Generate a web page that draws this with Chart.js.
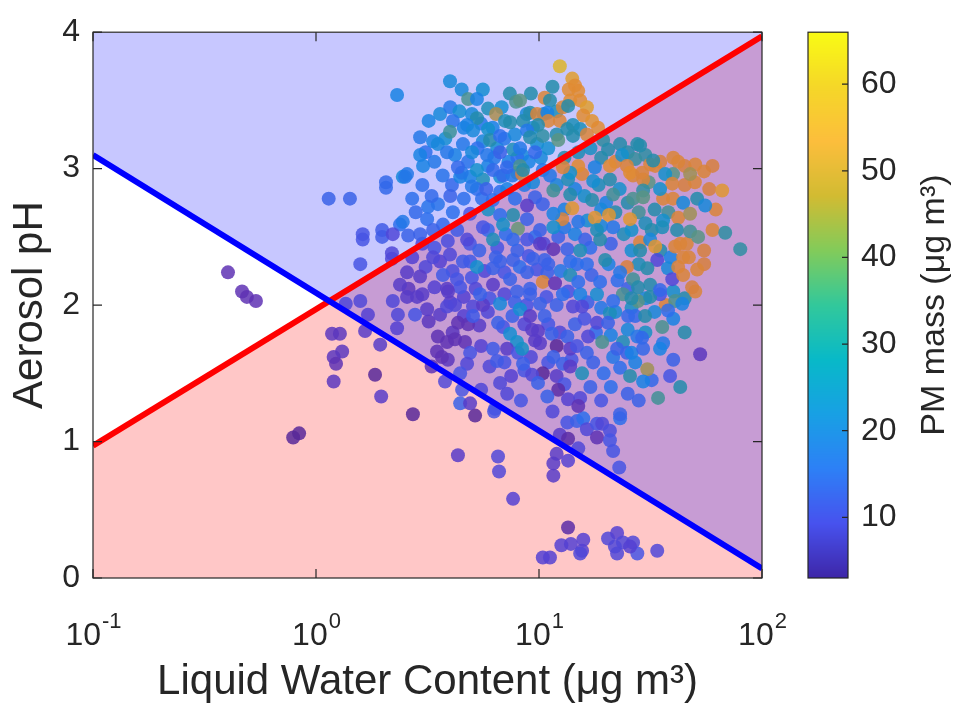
<!DOCTYPE html>
<html>
<head>
<meta charset="utf-8">
<script src="https://cdn.jsdelivr.net/npm/chart.js@4.4.1/dist/chart.umd.min.js"></script>
<style>
  html, body { margin: 0; padding: 0; background: #fff; }
  #wrap { position: relative; width: 958px; height: 720px; }
  #wrap canvas { position: absolute; left: 0; top: 0; }
</style>
</head>
<body>
<div id="wrap">
  <canvas id="main" width="958" height="720"></canvas>
  <canvas id="cbar" width="958" height="720"></canvas>
</div>
<script>
// ---- data: [LWC (ug m-3), aerosol pH, PM mass (ug m-3)] ----
const sparsePoints = [
  [2.31,3.54,20],[2.45,2.94,22],[2.06,2.90,15],[2.06,2.86,15],[1.14,2.78,14],[1.42,2.78,14],[2.38,2.59,16],
  [1.62,2.52,12],[1.62,2.48,12],[1.98,2.55,13],[1.98,2.50,13],[2.21,2.52,10],[1.58,2.30,12],[2.19,2.38,10],[2.19,2.34,10],
  [0.403,2.24,6],[0.466,2.10,6],[0.49,2.06,6],[0.538,2.03,6],
  [1.18,1.79,7],[1.28,1.79,7],[1.31,1.66,7],[1.20,1.62,7],[1.23,1.57,6],[1.20,1.44,7],[1.84,1.49,4],[1.96,1.33,8],
  [0.79,1.03,4],[0.84,1.06,4],
  [1.58,2.03,10],[1.36,2.01,10],[1.71,1.93,9],[1.66,1.81,8],[1.94,1.71,8],[2.31,1.83,9],[2.33,1.93,10],[2.21,2.03,10]
];
const lowPoints = [
  [2.72,1.20,4],[5.17,1.19,4],[6.29,1.22,12],[4.33,0.90,8],[6.55,0.89,10],[6.62,0.78,10],[7.65,0.58,9],
  [11.6,0.75,8],[11.6,0.84,8],[12.0,0.91,8],[13.5,0.86,9],[12.4,1.05,8],[13.5,1.02,5],[15.0,0.95,10],[13.4,1.14,12],
  [14.8,1.15,14],[15.8,1.17,16],[16.4,1.09,10],[18.2,1.13,12],[18.2,1.03,6],[19.2,1.13,10],[20.8,1.08,11],[20.8,1.01,12],
  [21.5,0.93,12],[23.1,1.17,16],[22.9,0.81,12],
  [13.5,0.37,5],[12.6,0.24,9],[13.9,0.25,9],[15.8,0.28,9],[15.6,0.20,9],[15.3,0.18,10],[10.4,0.15,9],[11.2,0.15,9],
  [20.4,0.29,10],[22.4,0.33,9],[21.9,0.23,10],[23.8,0.26,10],[26.4,0.26,10],[27.6,0.18,12],[22.4,0.18,10],[25.6,0.23,9],
  [33.9,0.20,10]
];
const upperLeftPoints = [
  [3.99,3.64,22],[4.81,3.51,36],[5.27,3.51,20],[7.89,3.49,36],[5.91,3.44,28],[6.42,3.40,46],[5.27,3.37,30],[4.11,3.35,17],
  [7.04,3.35,28],[7.42,3.34,30],[4.76,3.32,20],[3.99,3.27,34],[5.06,3.28,22],[5.91,3.29,25],[2.93,3.23,18],[3.35,3.20,20],
  [3.52,3.18,22],[4.56,3.18,18],[6.03,3.21,30],[6.69,3.24,16],[7.65,3.14,28],[3.87,3.12,18],[2.93,3.10,20],[3.02,3.02,20],
  [4.33,3.01,15],[5.01,3.12,22],[5.85,3.10,18],[6.69,3.12,14],[2.56,2.96,18],[5.27,2.99,25],[6.22,2.99,15],[7.19,3.01,15],
  [8.22,3.02,36],[8.40,2.96,50]
];
const upperFillPoints = [
  [3.2,3.35,20],[3.6,3.40,22],[4.0,3.45,18],[4.4,3.42,24],[4.6,3.30,20],[5.0,3.40,22],[5.5,3.33,18],[5.6,3.20,22],
  [6.2,3.30,20],[6.5,3.15,24],[7.0,3.22,18],[7.3,3.05,20],[7.8,3.25,22],[8.4,3.10,22],[8.8,3.40,22],[9.4,3.30,24],
  [3.1,3.12,16],[3.4,3.05,18],[3.8,3.22,24],[4.2,3.10,20],[4.8,3.05,17],[5.3,3.15,16],[5.9,3.02,20],[6.3,3.08,18],
  [6.9,2.95,15],[7.6,2.95,18],[8.0,3.08,16],[9.0,3.05,20],[9.8,3.18,24],[4.5,2.97,18],[3.7,2.95,17],[3.0,2.88,16],
  [3.3,2.80,15],[2.7,2.78,16],[2.8,2.68,15],[4.0,2.80,14],[4.6,2.78,16],[5.0,2.87,18],[5.8,2.85,14],[6.2,2.77,16],
  [7.2,2.85,20],[7.8,2.78,16],[8.6,2.88,18],[9.4,2.90,22],[10.2,3.08,22],[11.0,3.15,24],[10.5,3.40,24],[6.8,3.45,24],
  [5.6,3.58,24],[7.4,3.55,30],[4.5,3.58,22],[9.2,3.55,30],[11.5,3.60,30],[12.0,3.42,28]
];
const upperMidPoints = [
  [12.4,3.75,62],[14.1,3.66,58],[14.5,3.61,55],[13.6,3.58,55],[15.0,3.57,55],[13.8,3.50,55],[15.3,3.50,55],[10.6,3.52,52],
  [11.2,3.50,30],[8.22,3.50,38],[12.8,3.45,52],[13.5,3.46,30],[16.4,3.45,58],[9.12,3.41,30],[9.80,3.40,52],[10.9,3.41,20],
  [15.8,3.39,55],[17.3,3.35,56],[8.48,3.35,30],[11.0,3.35,52],[12.4,3.35,52],[9.90,3.32,30],[14.2,3.32,28],[15.3,3.29,28],
  [13.4,3.29,30],[18.4,3.30,55],[12.0,3.25,30],[10.4,3.24,32],[8.84,3.28,18],[9.12,3.23,30],[12.2,3.21,38],[14.2,3.24,30],
  [16.4,3.25,52],[19.4,3.21,32],[20.4,3.14,30],[23.1,3.18,30],[27.6,3.18,30],[23.6,3.10,25],[27.0,3.07,33],[20.8,3.02,55],
  [24.8,3.02,52],[25.6,2.97,55],[17.8,3.01,20],[15.0,3.02,55],[13.8,2.97,25],[8.48,2.99,30],[10.4,2.99,18],[12.8,3.01,52],
  [9.60,3.12,15],[8.22,3.15,18]
];
const upperRightPoints = [
  [28.4,3.17,30],[31.5,3.03,52],[33.2,3.02,52],[32.5,3.06,30],[42.1,3.05,52],[50.2,3.03,52],[29.0,2.97,52],[39.9,2.96,38],
  [47.6,2.96,45],[36.8,2.96,25],
  [66.3,2.84,57],[29.3,2.92,52],[39.6,2.89,52],[34.9,2.85,25],[29.3,2.84,32],[39.9,2.78,52],[44.3,2.75,22],[51.2,2.78,30],
  [55.6,2.73,22],[29.3,2.79,38],[42.1,2.64,52],[47.6,2.67,45],[36.0,2.62,25],[35.7,2.57,28],[41.6,2.55,30],[47.6,2.54,35],
  [51.7,2.50,38],[68.4,2.53,32],[79.9,2.41,32],[31.5,2.48,22],[33.2,2.43,57],[40.8,2.43,52],[43.0,2.45,52],[28.4,2.40,30],
  [33.9,2.33,10],[44.3,2.35,52],[37.9,2.27,22],[42.1,2.28,52],[51.2,2.26,52],[39.6,2.19,10],[44.3,2.22,52],[48.6,2.13,50],
  [30.6,2.27,30],[31.5,2.15,30],[34.9,2.11,15]
];
const rightFillPoints = [
  [13.0,3.08,30],[15.0,3.12,28],[17.0,3.15,26],[19.0,3.08,30],[22.0,3.05,52],[25.0,3.12,30],[30.0,3.10,32],[35.0,3.05,50],
  [40.0,3.08,52],[45.0,3.02,50],[55.0,2.98,52],[60.0,3.02,50],
  [12.0,2.88,22],[14.5,2.85,20],[16.0,2.80,25],[18.5,2.88,28],[20.0,2.75,20],[23.0,2.85,25],[25.0,2.75,30],[28.0,2.68,35],
  [31.0,2.90,38],[33.0,2.70,30],[36.0,2.78,52],[45.0,2.88,50],[50.0,2.90,52],[58.0,2.85,50],[62.0,2.70,52],
  [13.0,2.70,20],[16.5,2.62,24],[19.0,2.70,22],[22.0,2.68,30],[26.0,2.55,25],[30.0,2.60,28],[38.0,2.68,35],[46.0,2.45,52],
  [55.0,2.40,50],[60.0,2.55,52],[32.0,2.55,30],
  [28.0,2.30,28],[35.0,2.40,30],[39.0,2.35,20],[47.0,2.35,52],[55.0,2.30,50],[40.0,2.10,25],[45.0,2.05,30],[37.0,2.00,52],
  [26.0,2.05,30],[33.0,1.95,22],[40.0,1.90,20],[45.0,1.80,30],[36.0,1.72,18],[40.0,1.60,14],[26.0,1.65,20],[32.0,1.45,15],
  [43.0,1.40,30],[28.0,1.30,14]
];
const lowerRightPoints = [
  [50.2,2.10,52],[40.8,2.03,36],[43.9,2.01,20],[37.9,1.96,16],[34.9,2.08,12],[31.5,2.06,30],[29.9,1.92,30],[35.7,1.84,36],
  [52.8,1.64,7],[34.9,1.68,20],[29.0,1.76,15],[29.3,1.68,15],[30.6,1.53,45],[29.3,1.44,20],[38.7,1.48,12],[34.2,1.32,35]
];
const centerPoints = [
  [11.2,2.95,18],[13.5,2.92,28],[15.6,2.96,52],[17.5,2.91,24],[20.8,2.92,30],[26.4,2.95,52],[11.6,2.84,35],[13.8,2.81,30],
  [17.3,2.77,30],[21.5,2.81,35],[26.4,2.78,36],[9.60,2.79,14],[10.4,2.74,14],[14.1,2.71,57],[17.8,2.64,57],[20.6,2.66,57],
  [25.6,2.63,57],[12.7,2.63,52],[11.6,2.67,20],[8.84,2.73,8],[8.84,2.63,14],[15.0,2.61,18],[21.5,2.57,18],[18.2,2.55,28],
  [10.1,2.55,14],[11.6,2.57,25],[16.1,2.48,14],[18.8,2.48,30],[28.4,2.46,52],[11.6,2.41,6],[13.4,2.41,14],[8.84,2.48,12],
  [10.1,2.45,8],[15.3,2.40,28],[19.8,2.33,30],[24.8,2.28,50],[13.8,2.32,16],[16.4,2.30,16],[10.6,2.33,14],[9.40,2.34,14],
  [8.84,2.24,14],[10.9,2.24,14],[13.8,2.22,28],[23.1,2.24,18],[26.4,2.19,35],[10.4,2.17,52],[11.8,2.16,6],[15.0,2.17,16],
  [18.8,2.17,16],[9.12,2.12,14],[27.8,2.13,30]
];
const leftMidPoints = [
  [2.51,2.94,18],[4.07,2.88,15],[4.43,2.94,20],[4.91,2.94,20],[5.61,2.92,28],[5.27,2.85,16],[5.55,2.78,16],[6.69,2.94,24],
  [6.69,2.83,16],[7.97,2.97,40],[8.05,2.56,40],[7.65,2.66,30],[3.18,2.72,17],[3.52,2.74,17],[4.11,2.68,16],[2.45,2.61,18],
  [3.15,2.63,16],[3.71,2.59,15],[2.59,2.51,14],[2.93,2.52,14],[3.35,2.55,14],[4.91,2.67,12],[5.91,2.70,26],[6.69,2.66,16],
  [6.90,2.59,26],[5.61,2.57,12],[4.76,2.48,10],[6.22,2.48,28],[7.65,2.48,15],[3.35,2.35,10],[3.99,2.37,10],[4.56,2.32,13],
  [4.91,2.32,13],[5.27,2.28,25],[6.69,2.32,14],[7.65,2.33,14],[2.56,2.24,8],[2.93,2.21,8],[3.71,2.22,13],[4.29,2.19,12],
  [4.43,2.13,12],[3.87,2.12,8],[6.22,2.27,14],[6.22,2.15,8],[7.42,2.19,14],[7.97,2.10,14],[2.38,2.15,8]
];
const leftLowPoints = [
  [2.56,2.06,8],[2.84,2.06,8],[3.91,2.10,8],[3.15,1.97,8],[2.78,1.93,12],[3.87,1.99,10],[4.20,2.00,10],[5.06,1.99,10],
  [5.61,2.00,8],[5.44,2.08,14],[6.69,2.01,22],[8.22,1.97,24],[4.33,1.87,6],[4.81,1.86,6],[5.06,1.92,13],[6.55,1.87,14],
  [7.42,1.79,24],[7.97,1.73,25],[3.52,1.77,6],[3.87,1.73,6],[4.20,1.75,6],[4.66,1.73,6],[3.49,1.66,6],[3.67,1.62,6],
  [4.91,1.65,12],[6.22,1.68,13],[6.48,1.59,13],[7.19,1.68,8],[8.05,1.65,12],[4.76,1.57,10],[4.43,1.50,12],[6.69,1.43,10],
  [3.79,1.44,10],[4.52,1.38,12],[4.43,1.28,14],[4.91,1.28,8],[6.35,1.24,12]
];
const midFillPoints = [
  [3.0,2.45,10],[3.4,2.42,12],[3.9,2.47,11],[4.3,2.55,13],[4.9,2.45,12],[5.4,2.40,14],[5.9,2.55,15],[6.5,2.42,12],
  [7.1,2.52,16],[8.0,2.40,14],[9.0,2.36,12],[9.6,2.50,16],[10.5,2.45,10],[12.2,2.50,14],[13.0,2.57,18],[14.5,2.52,20],
  [17.0,2.42,16],[19.0,2.58,22],[21.0,2.45,14],[24.0,2.52,28],[26.0,2.40,24],
  [2.7,2.35,9],[3.1,2.28,10],[3.6,2.32,9],[4.1,2.25,11],[5.0,2.20,12],[5.7,2.25,10],[6.4,2.35,14],[7.0,2.24,12],
  [8.2,2.28,16],[9.8,2.26,12],[11.0,2.30,14],[12.5,2.25,18],[14.8,2.30,16],[17.2,2.22,14],[20.5,2.30,20],[22.5,2.18,16],
  [25.0,2.12,14],[30.0,2.05,22],
  [2.6,2.12,7],[3.0,2.08,8],[3.4,2.13,9],[4.0,2.02,8],[4.6,2.06,9],[5.2,2.12,10],[6.0,2.05,12],[7.0,2.08,10],
  [7.8,2.02,14],[8.8,2.00,12],[10.8,2.06,12],[12.0,2.00,14],[13.5,2.10,12],[16.5,2.02,14],[19.0,1.98,18],[22.0,1.95,22],
  [26.0,1.98,26],
  [3.2,1.88,7],[3.6,1.93,8],[4.1,1.80,7],[4.6,1.92,9],[5.4,1.85,8],[5.9,1.95,10],[6.9,1.84,12],[7.6,1.92,14],
  [8.6,1.86,10],[9.6,1.74,8],[11.0,1.86,12],[12.4,1.80,10],[14.5,1.86,14],[16.0,1.90,12],[18.0,1.80,16],[21.0,1.78,20],
  [25.0,1.82,22],[30.0,1.80,26],
  [3.3,1.55,6],[3.9,1.60,7],[5.5,1.70,9],[6.0,1.55,10],[7.0,1.58,12],[7.5,1.48,9],[8.6,1.52,12],[9.2,1.62,10],
  [11.0,1.58,12],[12.0,1.48,8],[14.0,1.60,12],[17.5,1.58,14],[19.5,1.50,16],[21.5,1.62,18],[27.0,1.58,20],
  [5.5,1.38,10],[7.2,1.35,10],[8.3,1.30,12],[11.5,1.22,10],[13.0,1.42,12],[17.0,1.40,14],[19.0,1.30,12],[21.0,1.40,16],
  [25.0,1.35,14]
];
const midLowPoints = [
  [9.12,2.08,14],[12.8,2.08,16],[15.3,2.08,20],[18.2,2.08,24],[23.8,2.08,36],[27.8,2.03,38],[10.1,2.01,14],[14.2,1.99,10],
  [15.6,1.99,10],[20.8,1.94,28],[21.5,2.03,16],[25.1,1.92,15],[27.0,1.92,15],[9.12,1.92,8],[10.6,1.92,14],[18.2,1.87,10],
  [20.4,1.87,14],[9.31,1.82,8],[9.90,1.81,8],[11.4,1.79,14],[13.4,1.77,14],[16.6,1.77,10],[19.2,1.73,36],[23.8,1.73,28],
  [27.6,1.77,18],[12.0,1.70,4],[13.8,1.68,8],[14.8,1.70,12],[16.4,1.65,14],[8.40,1.68,26],[10.1,1.72,8],[22.4,1.68,14],
  [24.8,1.65,14],[11.6,1.62,14],[12.8,1.57,14],[13.8,1.55,8],[8.48,1.57,14],[10.4,1.50,4],[9.31,1.49,10],[9.90,1.43,14],
  [15.6,1.50,28],[23.1,1.54,16],[25.6,1.48,30],[12.2,1.38,5],[10.9,1.33,14],[13.5,1.31,9],[15.3,1.32,10],[15.0,1.26,6],
  [23.1,1.20,14]
];

const allPoints = [].concat(sparsePoints, lowPoints, midFillPoints, leftMidPoints, leftLowPoints, midLowPoints,
  rightFillPoints, centerPoints, lowerRightPoints, upperFillPoints, upperLeftPoints, upperMidPoints, upperRightPoints);

const lineLWC = [0.1, 100];
const redLinePH = [0.97, 3.97];
const blueLinePH = [3.10, 0.07];

const xTicks = [0.1, 1, 10, 100];
const xTickExp = ['-1', '0', '1', '2'];
const yTicks = [0, 1, 2, 3, 4];
const pmRange = [3, 66];
const pmTicks = [10, 20, 30, 40, 50, 60];

// ---- colours ----
// colour bar gradient (parula-like), keyed by position 0..1
const PARULA = [
  [0.00, 62, 38, 168], [0.10, 71, 82, 238], [0.20, 45, 128, 246], [0.30, 24, 160, 228],
  [0.40, 8, 185, 200], [0.50, 50, 200, 155], [0.60, 130, 203, 90], [0.70, 210, 187, 50],
  [0.80, 252, 190, 60], [0.90, 245, 215, 40], [1.00, 249, 251, 20]
];
// marker face colours as they appear in the figure, keyed by PM value
const MARKER = [
  [3, 85, 35, 140], [6, 95, 50, 180], [9, 85, 65, 210], [12, 70, 85, 228], [16, 45, 110, 236],
  [20, 25, 130, 228], [25, 20, 145, 205], [30, 35, 140, 172], [35, 65, 145, 150], [40, 105, 150, 120],
  [45, 160, 145, 85], [50, 215, 128, 62], [55, 225, 140, 52], [60, 222, 168, 45], [66, 215, 205, 40]
];
function lerpTable(table, key, alpha) {
  key = Math.max(table[0][0], Math.min(table[table.length - 1][0], key));
  let i = 0;
  while (i < table.length - 2 && key > table[i + 1][0]) i++;
  const a = table[i], b = table[i + 1];
  const f = (key - a[0]) / (b[0] - a[0]);
  const c = [1, 2, 3].map(k => Math.round(a[k] + (b[k] - a[k]) * f));
  return alpha == null ? `rgb(${c})` : `rgba(${c},${alpha})`;
}
const parula = v => lerpTable(PARULA, (v - pmRange[0]) / (pmRange[1] - pmRange[0]));
const markerColor = v => lerpTable(MARKER, v, 0.85);

const FONT = '"Liberation Sans", Arial, sans-serif';
const INK = '#262626';

// ticks / box / superscript labels for the main axes
const axisDecor = {
  id: 'axisDecor',
  afterDraw(chart) {
    const { ctx, chartArea: a, scales: { x, y } } = chart;
    ctx.save();
    ctx.strokeStyle = INK;
    ctx.lineWidth = 1.2;
    ctx.strokeRect(a.left, a.top, a.right - a.left, a.bottom - a.top);
    ctx.beginPath();
    yTicks.forEach(v => {
      const py = y.getPixelForValue(v);
      ctx.moveTo(a.left, py); ctx.lineTo(a.left + 9, py);
      ctx.moveTo(a.right, py); ctx.lineTo(a.right - 9, py);
    });
    xTicks.forEach(v => {
      const px = x.getPixelForValue(v);
      ctx.moveTo(px, a.bottom); ctx.lineTo(px, a.bottom - 9);
      ctx.moveTo(px, a.top); ctx.lineTo(px, a.top + 9);
    });
    ctx.stroke();

    ctx.fillStyle = INK;
    ctx.textBaseline = 'alphabetic';
    ctx.textAlign = 'left';
    xTicks.forEach((v, i) => {
      const px = x.getPixelForValue(v);
      ctx.font = '32px ' + FONT;
      const w1 = ctx.measureText('10').width;
      ctx.font = '22px ' + FONT;
      const w2 = ctx.measureText(xTickExp[i]).width;
      const x0 = px - (w1 + w2) / 2;
      ctx.font = '32px ' + FONT;
      ctx.fillText('10', x0, a.bottom + 67);
      ctx.font = '22px ' + FONT;
      ctx.fillText(xTickExp[i], x0 + w1 + 1, a.bottom + 50);
    });
    ctx.restore();
  }
};

const scatterData = allPoints.map(p => ({ x: p[0], y: p[1] }));
const scatterColors = allPoints.map(p => markerColor(p[2]));

new Chart(document.getElementById('main'), {
  type: 'scatter',
  data: {
    datasets: [
      {
        type: 'line', label: 'blue', order: 0, showLine: true,
        data: lineLWC.map((v, i) => ({ x: v, y: blueLinePH[i] })),
        borderColor: '#0000ff', borderWidth: 6, pointRadius: 0,
        fill: 'end', backgroundColor: 'rgba(0,0,255,0.22)'
      },
      {
        type: 'line', label: 'red', order: 0, showLine: true,
        data: lineLWC.map((v, i) => ({ x: v, y: redLinePH[i] })),
        borderColor: '#ff0000', borderWidth: 6, pointRadius: 0,
        fill: 'start', backgroundColor: 'rgba(255,0,0,0.22)'
      },
      {
        label: 'samples', order: 1,
        data: scatterData,
        backgroundColor: scatterColors,
        borderWidth: 0, pointRadius: 7, pointHoverRadius: 7
      }
    ]
  },
  options: {
    responsive: false,
    animation: false,
    layout: { padding: { top: 29, right: 196, left: 0, bottom: 0 } },
    plugins: {
      legend: { display: false },
      tooltip: { enabled: false },
      filler: { drawTime: 'beforeDatasetsDraw' }
    },
    scales: {
      x: {
        type: 'logarithmic', min: 0.1, max: 100,
        grid: { display: false },
        border: { display: false },
        ticks: { display: false },
        afterFit: s => { s.height = 142; },
        title: {
          display: true, text: 'Liquid Water Content (\u03bcg m\u00b3)', color: INK,
          font: { family: FONT, size: 42 }, padding: { top: 0, bottom: 12 }
        }
      },
      y: {
        min: 0, max: 4,
        grid: { display: false, drawTicks: false },
        border: { display: false },
        afterBuildTicks: s => { s.ticks = yTicks.map(v => ({ value: v })); },
        ticks: { color: INK, font: { family: FONT, size: 32 }, padding: 13 },
        afterFit: s => { s.width = 93; },
        title: {
          display: true, text: 'Aerosol pH', color: INK,
          font: { family: FONT, size: 42 }, padding: { top: 5, bottom: 0 }
        }
      }
    }
  },
  plugins: [axisDecor]
});

// ---- colour bar ----
const cbarDecor = {
  id: 'cbarDecor',
  beforeDatasetsDraw(chart) {
    const { ctx, chartArea: a, scales: { y } } = chart;
    ctx.save();
    for (let py = Math.floor(a.top); py < a.bottom; py++) {
      ctx.fillStyle = parula(y.getValueForPixel(py + 0.5));
      ctx.fillRect(a.left, py, a.right - a.left, 1);
    }
    ctx.restore();
  },
  afterDraw(chart) {
    const { ctx, chartArea: a, scales: { y } } = chart;
    ctx.save();
    ctx.strokeStyle = INK;
    ctx.lineWidth = 1.2;
    ctx.strokeRect(a.left, a.top, a.right - a.left, a.bottom - a.top);
    ctx.beginPath();
    pmTicks.forEach(v => {
      const py = y.getPixelForValue(v);
      ctx.moveTo(a.right, py); ctx.lineTo(a.right - 6, py);
    });
    ctx.stroke();
    ctx.translate(935, (a.top + a.bottom) / 2);
    ctx.rotate(-Math.PI / 2);
    ctx.fillStyle = INK;
    ctx.textAlign = 'center';
    ctx.textBaseline = 'middle';
    ctx.font = '34px ' + FONT;
    ctx.fillText('PM mass (\u03bcg m\u00b3)', 0, 0);
    ctx.restore();
  }
};

new Chart(document.getElementById('cbar'), {
  type: 'scatter',
  data: { datasets: [] },
  options: {
    responsive: false,
    animation: false,
    layout: { padding: { top: 29, left: 808, bottom: 142, right: 0 } },
    plugins: { legend: { display: false }, tooltip: { enabled: false } },
    scales: {
      x: { display: false },
      y: {
        position: 'right', min: pmRange[0], max: pmRange[1],
        grid: { display: false, drawTicks: false },
        border: { display: false },
        afterBuildTicks: s => { s.ticks = pmTicks.map(v => ({ value: v })); },
        ticks: { color: INK, font: { family: FONT, size: 32 }, padding: 13 },
        afterFit: s => { s.width = 110; }
      }
    }
  },
  plugins: [cbarDecor]
});
</script>
</body>
</html>
